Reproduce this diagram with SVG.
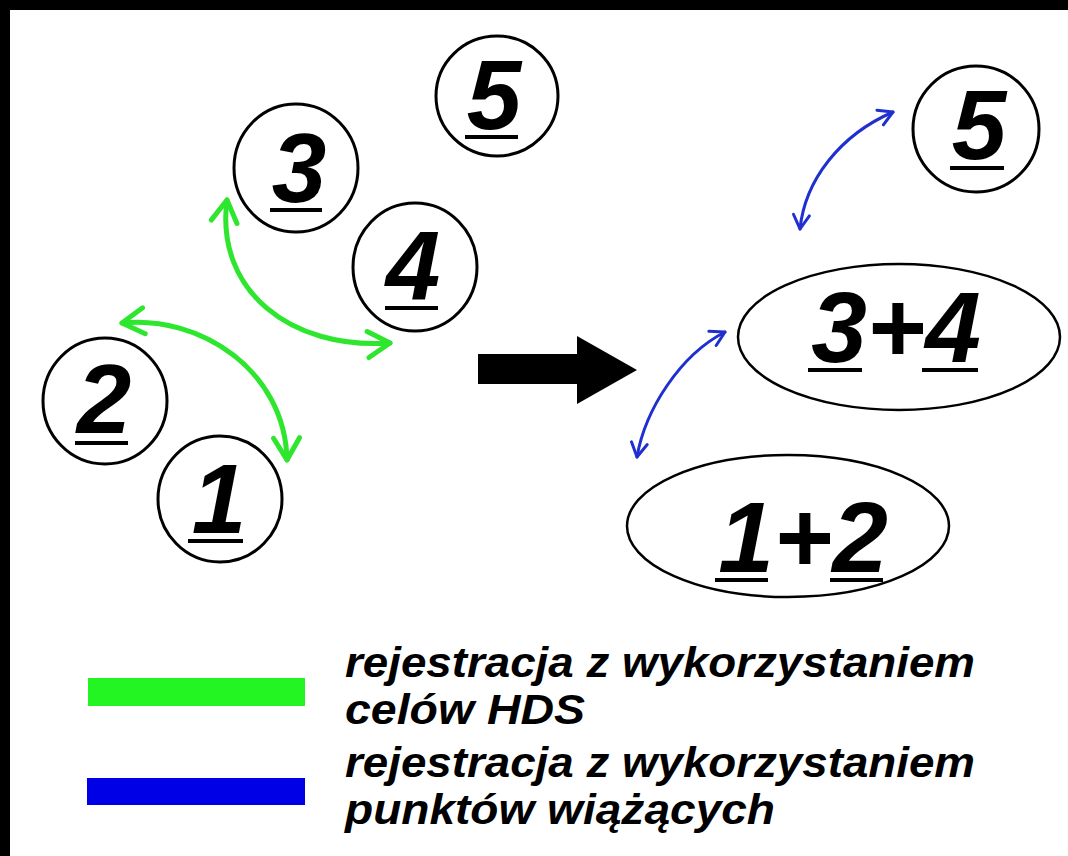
<svg xmlns="http://www.w3.org/2000/svg" width="1068" height="856" viewBox="0 0 1068 856">
<defs>
<style>
.node{fill:#fff;stroke:#000;stroke-width:3}
.big{fill:#fff;stroke:#000;stroke-width:2.5}
.dig{font-family:"Liberation Sans",Arial,sans-serif;font-weight:bold;font-style:italic;font-size:98px;fill:#000;text-anchor:middle}
.sum{font-family:"Liberation Sans",Arial,sans-serif;font-weight:bold;font-style:italic;font-size:100px;fill:#000;text-anchor:middle}
.ul{stroke:#000;stroke-width:4}
.g{fill:none;stroke:#2fe62f;stroke-width:5;stroke-linecap:round}
.b{fill:none;stroke:#1f2fd0;stroke-width:3;stroke-linecap:round}
.leg{font-family:"Liberation Sans",Arial,sans-serif;font-weight:bold;font-style:italic;font-size:42px;fill:#000}
</style>
<marker id="ag" viewBox="-30 -18 36 36" markerUnits="userSpaceOnUse" markerWidth="36" markerHeight="36" refX="0" refY="0" orient="auto-start-reverse">
<path d="M-22,-13 L0,0 L-22,13" fill="none" stroke="#2fe62f" stroke-width="5" stroke-linecap="round" stroke-linejoin="round"/>
</marker>
<marker id="ab" viewBox="-20 -12 24 24" markerUnits="userSpaceOnUse" markerWidth="24" markerHeight="24" refX="0" refY="0" orient="auto-start-reverse">
<path d="M-14,-8 L0,0 L-14,8" fill="none" stroke="#1f2fd0" stroke-width="3" stroke-linecap="round" stroke-linejoin="round"/>
</marker>
</defs>
<rect x="0" y="0" width="1068" height="856" fill="#000"/>
<rect x="10" y="10" width="1058" height="846" fill="#fff"/>

<g id="n5a"><ellipse class="node" cx="497" cy="96" rx="61" ry="60"/><text class="dig" x="494" y="129">5</text><line class="ul" x1="465" y1="137" x2="518" y2="137"/></g>
<g id="n3"><ellipse class="node" cx="296" cy="168" rx="62" ry="64"/><text class="dig" x="299" y="202">3</text><line class="ul" x1="270" y1="210" x2="322" y2="210"/></g>
<g id="n4"><ellipse class="node" cx="415" cy="267" rx="62" ry="64"/><text class="dig" x="413" y="300">4</text><line class="ul" x1="385" y1="308" x2="438" y2="308"/></g>
<g id="n2"><ellipse class="node" cx="105" cy="401" rx="62" ry="63"/><text class="dig" x="104" y="433">2</text><line class="ul" x1="75" y1="443" x2="128" y2="443"/></g>
<g id="n1"><ellipse class="node" cx="220" cy="499" rx="62" ry="63"/><text class="dig" x="219" y="533">1</text><line class="ul" x1="188" y1="541" x2="243" y2="541"/></g>
<g id="n5b"><ellipse class="node" cx="976" cy="129" rx="63" ry="63"/><text class="dig" x="979" y="159">5</text><line class="ul" x1="950" y1="168" x2="1004" y2="168"/></g>
<g id="n34"><ellipse class="big" cx="899" cy="337" rx="161" ry="73"/><text class="sum" x="896" y="362">3+4</text><line class="ul" x1="808" y1="370" x2="862" y2="370"/><line class="ul" x1="922" y1="370" x2="978" y2="370"/></g>
<g id="n12"><ellipse class="big" cx="788" cy="526" rx="161" ry="71"/><text class="sum" x="803" y="572">1+2</text><line class="ul" x1="715" y1="580" x2="768" y2="580"/><line class="ul" x1="830" y1="580" x2="883" y2="580"/></g>

<g id="connectors">
<path class="g" d="M122,323 C200,315 285,370 287,460" marker-start="url(#ag)" marker-end="url(#ag)"/>
<path class="g" d="M227,200 C215,290 290,350 390,343" marker-start="url(#ag)" marker-end="url(#ag)"/>
<path class="b" d="M800,229 C805,180 840,135 893,112" marker-start="url(#ab)" marker-end="url(#ab)"/>
<path class="b" d="M637,457 C645,410 680,355 725,332" marker-start="url(#ab)" marker-end="url(#ab)"/>
<polygon id="bigarrow" points="478,354 577,354 577,336 637,370 577,404 577,384 478,384" fill="#000"/>
</g>

<g id="legend">
<rect x="88" y="678" width="217" height="28" fill="#22f522"/>
<rect x="87" y="778" width="218" height="27" fill="#0000e6"/>
<text class="leg" x="345" y="677" textLength="630" lengthAdjust="spacingAndGlyphs">rejestracja z wykorzystaniem</text>
<text class="leg" x="345" y="724" textLength="240" lengthAdjust="spacingAndGlyphs">celów HDS</text>
<text class="leg" x="345" y="777" textLength="630" lengthAdjust="spacingAndGlyphs">rejestracja z wykorzystaniem</text>
<text class="leg" x="345" y="824" textLength="430" lengthAdjust="spacingAndGlyphs">punktów wiążących</text>
</g>
</svg>
